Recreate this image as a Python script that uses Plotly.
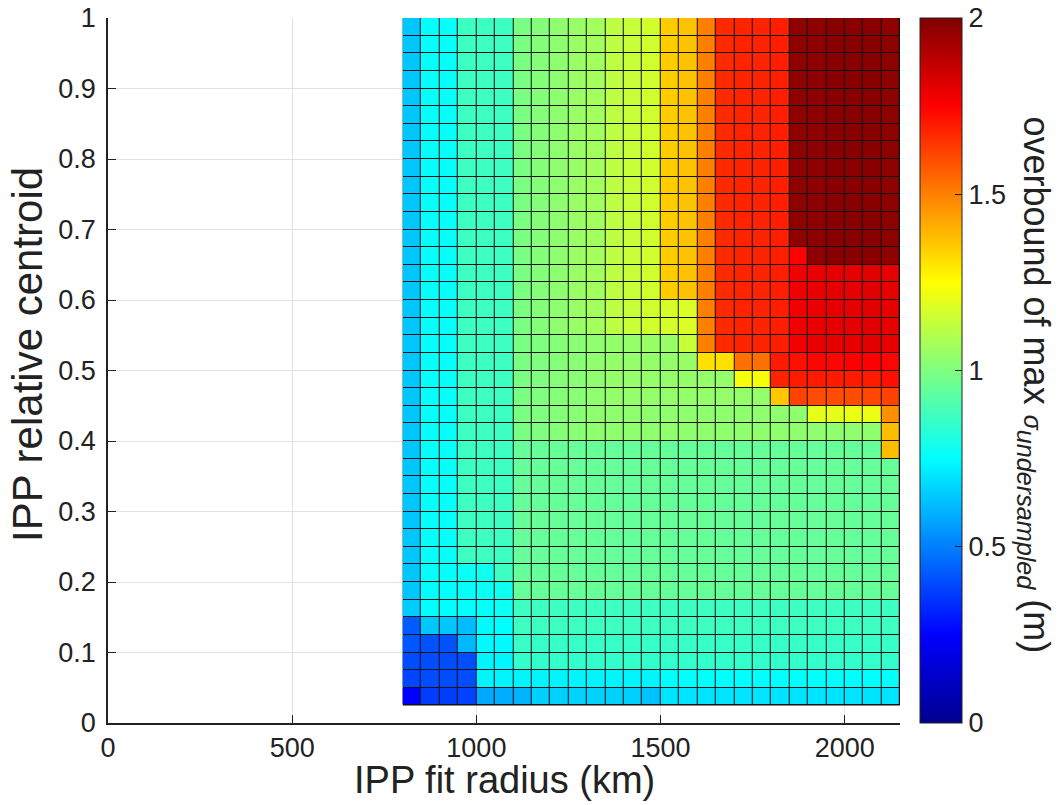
import plotly.graph_objects as go

# IPP fit radius (km) - centres of the 27 grid columns
radius_km = [825, 875, 925, 975, 1025, 1075, 1125, 1175, 1225, 1275, 1325, 1375, 1425, 1475,
             1525, 1575, 1625, 1675, 1725, 1775, 1825, 1875, 1925, 1975, 2025, 2075, 2125]

# IPP relative centroid - centres of the 39 grid rows, listed top to bottom
centroid = [0.9875, 0.9625, 0.9375, 0.9125, 0.8875, 0.8625, 0.8375, 0.8125, 0.7875, 0.7625,
            0.7375, 0.7125, 0.6875, 0.6625, 0.6375, 0.6125, 0.5875, 0.5625, 0.5375, 0.5125,
            0.4875, 0.4625, 0.4375, 0.4125, 0.3875, 0.3625, 0.3375, 0.3125, 0.2875, 0.2625,
            0.2375, 0.2125, 0.1875, 0.1625, 0.1375, 0.1125, 0.0875, 0.0625, 0.0375]

# overbound of max sigma_undersampled (m), one row per centroid value (top to bottom)
overbound = [
    [0.64, 0.76, 0.76, 0.87, 0.87, 0.87, 0.99, 1.01, 1.03, 1.05, 1.07, 1.12, 1.14, 1.16, 1.35, 1.37, 1.50, 1.67, 1.68, 1.68, 1.69, 1.97, 1.97, 1.98, 1.98, 1.98, 1.97],
    [0.64, 0.76, 0.76, 0.87, 0.87, 0.87, 0.99, 1.01, 1.03, 1.05, 1.07, 1.12, 1.14, 1.16, 1.35, 1.37, 1.50, 1.67, 1.68, 1.68, 1.69, 1.97, 1.97, 1.98, 1.98, 1.98, 1.97],
    [0.64, 0.76, 0.76, 0.87, 0.87, 0.87, 0.99, 1.01, 1.03, 1.05, 1.07, 1.12, 1.14, 1.16, 1.35, 1.37, 1.50, 1.67, 1.68, 1.68, 1.69, 1.97, 1.97, 1.98, 1.98, 1.98, 1.97],
    [0.64, 0.76, 0.76, 0.87, 0.87, 0.87, 0.99, 1.01, 1.03, 1.05, 1.07, 1.12, 1.14, 1.16, 1.35, 1.37, 1.50, 1.67, 1.68, 1.68, 1.69, 1.97, 1.97, 1.98, 1.98, 1.98, 1.97],
    [0.64, 0.76, 0.76, 0.87, 0.87, 0.87, 0.99, 1.01, 1.03, 1.05, 1.07, 1.12, 1.14, 1.16, 1.35, 1.37, 1.50, 1.67, 1.68, 1.68, 1.69, 1.97, 1.97, 1.98, 1.98, 1.98, 1.97],
    [0.64, 0.76, 0.76, 0.87, 0.87, 0.87, 0.99, 1.01, 1.03, 1.05, 1.07, 1.12, 1.14, 1.16, 1.35, 1.37, 1.50, 1.67, 1.68, 1.68, 1.69, 1.97, 1.97, 1.98, 1.98, 1.98, 1.97],
    [0.64, 0.76, 0.76, 0.87, 0.87, 0.87, 0.99, 1.01, 1.03, 1.05, 1.07, 1.12, 1.14, 1.16, 1.35, 1.37, 1.50, 1.67, 1.68, 1.68, 1.69, 1.97, 1.97, 1.98, 1.98, 1.98, 1.97],
    [0.64, 0.76, 0.76, 0.87, 0.87, 0.87, 0.99, 1.01, 1.03, 1.05, 1.07, 1.12, 1.14, 1.16, 1.35, 1.37, 1.50, 1.67, 1.68, 1.68, 1.69, 1.97, 1.97, 1.98, 1.98, 1.98, 1.97],
    [0.64, 0.76, 0.76, 0.87, 0.87, 0.87, 0.99, 1.01, 1.03, 1.05, 1.07, 1.12, 1.14, 1.16, 1.35, 1.37, 1.50, 1.67, 1.68, 1.68, 1.69, 1.97, 1.97, 1.98, 1.98, 1.98, 1.97],
    [0.64, 0.76, 0.76, 0.87, 0.87, 0.87, 0.99, 1.01, 1.03, 1.05, 1.07, 1.12, 1.14, 1.16, 1.35, 1.37, 1.50, 1.67, 1.68, 1.68, 1.69, 1.97, 1.97, 1.98, 1.98, 1.98, 1.97],
    [0.64, 0.76, 0.76, 0.87, 0.87, 0.87, 0.99, 1.01, 1.03, 1.05, 1.07, 1.12, 1.14, 1.16, 1.35, 1.37, 1.50, 1.67, 1.68, 1.68, 1.69, 1.97, 1.97, 1.98, 1.98, 1.98, 1.97],
    [0.64, 0.76, 0.76, 0.87, 0.87, 0.87, 0.99, 1.01, 1.03, 1.05, 1.07, 1.12, 1.14, 1.16, 1.35, 1.37, 1.50, 1.67, 1.68, 1.68, 1.69, 1.97, 1.97, 1.98, 1.98, 1.98, 1.97],
    [0.64, 0.76, 0.76, 0.87, 0.87, 0.87, 0.99, 1.01, 1.03, 1.05, 1.07, 1.12, 1.14, 1.16, 1.35, 1.37, 1.50, 1.67, 1.68, 1.68, 1.69, 1.97, 1.97, 1.98, 1.98, 1.98, 1.97],
    [0.64, 0.76, 0.76, 0.87, 0.87, 0.87, 0.99, 1.01, 1.03, 1.05, 1.07, 1.12, 1.14, 1.16, 1.35, 1.37, 1.50, 1.67, 1.68, 1.68, 1.69, 1.75, 1.97, 1.98, 1.98, 1.98, 1.97],
    [0.64, 0.76, 0.76, 0.87, 0.87, 0.87, 0.99, 1.01, 1.03, 1.05, 1.07, 1.12, 1.14, 1.16, 1.35, 1.37, 1.50, 1.67, 1.68, 1.68, 1.69, 1.78, 1.79, 1.80, 1.80, 1.81, 1.80],
    [0.64, 0.76, 0.76, 0.87, 0.87, 0.87, 0.99, 1.01, 1.03, 1.05, 1.07, 1.12, 1.14, 1.16, 1.35, 1.37, 1.50, 1.67, 1.68, 1.68, 1.69, 1.78, 1.79, 1.80, 1.80, 1.81, 1.80],
    [0.64, 0.76, 0.76, 0.87, 0.87, 0.87, 0.99, 1.01, 1.03, 1.05, 1.07, 1.12, 1.14, 1.16, 1.17, 1.18, 1.50, 1.67, 1.68, 1.68, 1.69, 1.78, 1.79, 1.80, 1.80, 1.81, 1.80],
    [0.64, 0.76, 0.76, 0.87, 0.87, 0.87, 0.99, 1.01, 1.03, 1.05, 1.07, 1.12, 1.14, 1.16, 1.17, 1.18, 1.50, 1.67, 1.68, 1.68, 1.69, 1.78, 1.79, 1.80, 1.80, 1.81, 1.80],
    [0.64, 0.76, 0.76, 0.87, 0.87, 0.87, 0.99, 1.00, 1.01, 1.02, 1.03, 1.04, 1.04, 1.05, 1.05, 1.14, 1.50, 1.67, 1.68, 1.68, 1.69, 1.78, 1.79, 1.80, 1.80, 1.81, 1.80],
    [0.64, 0.76, 0.76, 0.87, 0.87, 0.87, 0.99, 1.00, 1.01, 1.02, 1.03, 1.04, 1.04, 1.04, 1.04, 1.05, 1.31, 1.31, 1.53, 1.53, 1.70, 1.72, 1.74, 1.74, 1.75, 1.75, 1.74],
    [0.64, 0.76, 0.76, 0.87, 0.87, 0.87, 0.99, 1.00, 1.01, 1.02, 1.03, 1.04, 1.04, 1.04, 1.04, 1.04, 1.04, 1.04, 1.23, 1.23, 1.68, 1.70, 1.70, 1.70, 1.70, 1.70, 1.72],
    [0.64, 0.76, 0.76, 0.87, 0.87, 0.87, 0.99, 1.00, 1.01, 1.02, 1.03, 1.04, 1.04, 1.04, 1.04, 1.04, 1.04, 1.04, 1.04, 1.04, 1.36, 1.62, 1.60, 1.60, 1.60, 1.61, 1.62],
    [0.64, 0.76, 0.76, 0.87, 0.87, 0.87, 0.99, 1.00, 1.01, 1.02, 1.03, 1.03, 1.03, 1.03, 1.03, 1.03, 1.03, 1.03, 1.03, 1.03, 1.03, 1.03, 1.20, 1.20, 1.21, 1.21, 1.47],
    [0.64, 0.76, 0.76, 0.87, 0.87, 0.87, 0.99, 1.00, 1.01, 1.02, 1.03, 1.03, 1.03, 1.03, 1.03, 1.03, 1.03, 1.03, 1.03, 1.03, 1.03, 1.03, 1.03, 1.03, 1.03, 1.03, 1.38],
    [0.64, 0.76, 0.76, 0.87, 0.87, 0.87, 0.95, 0.95, 0.95, 0.95, 0.95, 0.95, 0.95, 0.95, 0.95, 0.95, 0.95, 0.95, 0.95, 0.95, 0.95, 0.95, 0.95, 0.95, 0.95, 0.95, 1.38],
    [0.64, 0.76, 0.76, 0.87, 0.87, 0.87, 0.95, 0.95, 0.95, 0.95, 0.95, 0.95, 0.95, 0.95, 0.95, 0.95, 0.95, 0.95, 0.95, 0.95, 0.95, 0.95, 0.95, 0.95, 0.95, 0.95, 0.95],
    [0.64, 0.76, 0.76, 0.87, 0.87, 0.87, 0.95, 0.95, 0.95, 0.95, 0.95, 0.95, 0.95, 0.95, 0.95, 0.95, 0.95, 0.95, 0.95, 0.95, 0.95, 0.95, 0.95, 0.95, 0.95, 0.95, 0.95],
    [0.64, 0.76, 0.76, 0.87, 0.87, 0.87, 0.95, 0.95, 0.95, 0.95, 0.95, 0.95, 0.95, 0.95, 0.95, 0.95, 0.95, 0.95, 0.95, 0.95, 0.95, 0.95, 0.95, 0.95, 0.95, 0.95, 0.95],
    [0.64, 0.76, 0.76, 0.87, 0.87, 0.87, 0.95, 0.95, 0.95, 0.95, 0.95, 0.95, 0.95, 0.95, 0.95, 0.95, 0.95, 0.95, 0.95, 0.95, 0.95, 0.95, 0.95, 0.95, 0.95, 0.95, 0.95],
    [0.64, 0.76, 0.76, 0.87, 0.87, 0.87, 0.95, 0.95, 0.95, 0.95, 0.95, 0.95, 0.95, 0.95, 0.95, 0.95, 0.95, 0.95, 0.95, 0.95, 0.95, 0.95, 0.95, 0.95, 0.95, 0.95, 0.95],
    [0.64, 0.76, 0.76, 0.87, 0.87, 0.87, 0.95, 0.95, 0.95, 0.95, 0.95, 0.95, 0.95, 0.95, 0.95, 0.95, 0.95, 0.95, 0.95, 0.95, 0.95, 0.95, 0.95, 0.95, 0.95, 0.95, 0.95],
    [0.64, 0.76, 0.76, 0.77, 0.78, 0.87, 0.95, 0.95, 0.95, 0.95, 0.95, 0.95, 0.95, 0.95, 0.95, 0.95, 0.95, 0.95, 0.95, 0.95, 0.95, 0.95, 0.95, 0.95, 0.95, 0.95, 0.95],
    [0.64, 0.75, 0.75, 0.76, 0.77, 0.78, 0.95, 0.95, 0.95, 0.95, 0.95, 0.95, 0.95, 0.95, 0.95, 0.95, 0.95, 0.95, 0.95, 0.95, 0.95, 0.95, 0.95, 0.95, 0.95, 0.95, 0.95],
    [0.65, 0.75, 0.75, 0.75, 0.76, 0.77, 0.87, 0.87, 0.87, 0.87, 0.87, 0.87, 0.87, 0.87, 0.87, 0.87, 0.87, 0.87, 0.87, 0.87, 0.87, 0.87, 0.87, 0.87, 0.87, 0.87, 0.87],
    [0.43, 0.64, 0.64, 0.62, 0.74, 0.75, 0.87, 0.87, 0.87, 0.87, 0.87, 0.87, 0.87, 0.87, 0.87, 0.87, 0.87, 0.87, 0.87, 0.87, 0.87, 0.87, 0.87, 0.87, 0.87, 0.87, 0.87],
    [0.42, 0.41, 0.41, 0.61, 0.74, 0.74, 0.86, 0.86, 0.86, 0.86, 0.86, 0.86, 0.86, 0.86, 0.86, 0.86, 0.86, 0.86, 0.86, 0.86, 0.86, 0.86, 0.86, 0.86, 0.86, 0.86, 0.86],
    [0.40, 0.40, 0.40, 0.40, 0.73, 0.73, 0.85, 0.85, 0.85, 0.85, 0.85, 0.85, 0.85, 0.85, 0.85, 0.85, 0.85, 0.85, 0.85, 0.85, 0.85, 0.85, 0.85, 0.85, 0.85, 0.85, 0.85],
    [0.39, 0.40, 0.40, 0.40, 0.73, 0.73, 0.73, 0.73, 0.73, 0.73, 0.73, 0.73, 0.73, 0.73, 0.75, 0.75, 0.75, 0.75, 0.75, 0.75, 0.75, 0.75, 0.75, 0.75, 0.75, 0.75, 0.75],
    [0.25, 0.37, 0.37, 0.38, 0.58, 0.59, 0.60, 0.66, 0.66, 0.66, 0.66, 0.66, 0.66, 0.63, 0.70, 0.70, 0.70, 0.70, 0.70, 0.70, 0.70, 0.70, 0.70, 0.70, 0.70, 0.70, 0.70],
]

x_ticks = [0, 500, 1000, 1500, 2000]
y_ticks = [0, 0.1, 0.2, 0.3, 0.4, 0.5, 0.6, 0.7, 0.8, 0.9, 1]
cbar_ticks = [0, 0.5, 1, 1.5, 2]

assert len(overbound) == len(centroid)
assert all(len(r) == len(radius_km) for r in overbound)

jet = [[0.0, "rgb(0,0,143)"], [0.125, "rgb(0,0,255)"], [0.375, "rgb(0,255,255)"],
       [0.625, "rgb(255,255,0)"], [0.875, "rgb(255,0,0)"], [1.0, "rgb(128,0,0)"]]

FONT = "Liberation Sans, Arial, Helvetica, sans-serif"

fig = go.Figure()
fig.add_trace(go.Heatmap(
    x=radius_km, y=centroid[::-1], z=overbound[::-1],
    zmin=0, zmax=2, colorscale=jet, xgap=1, ygap=1,
    colorbar=dict(
        x=1.0253, xanchor="left", xpad=0, y=0.5, yanchor="middle", ypad=0,
        len=1, lenmode="fraction",
        thickness=42, thicknessmode="pixels", outlinewidth=1, outlinecolor="#222",
        tickvals=cbar_ticks, ticktext=[str(v) for v in cbar_ticks],
        ticks="inside", ticklen=7, tickcolor="#222", tickfont=dict(size=27, color="#222"),
        ticklabeloverflow="allow",
    ),
))

# black backing behind the cells so the gaps read as cell borders
half_w = (radius_km[1] - radius_km[0]) / 2
half_h = (centroid[0] - centroid[1]) / 2
fig.add_shape(type="rect", xref="x", yref="y", layer="between",
              x0=min(radius_km) - half_w, x1=max(radius_km) + half_w,
              y0=min(centroid) - half_h, y1=max(centroid) + half_h,
              fillcolor="#111", line=dict(width=0))

axis_common = dict(showline=True, linecolor="#222", linewidth=1.5, ticks="inside",
                   ticklen=8, tickcolor="#222", tickwidth=1.2, showgrid=True,
                   gridcolor="#e2e2e2", gridwidth=1, zeroline=False,
                   ticklabeloverflow="allow", tickfont=dict(size=27, color="#222"))

fig.update_xaxes(range=[0, 2150], tickvals=x_ticks, **axis_common)
fig.update_yaxes(range=[0, 1], tickvals=y_ticks, ticktext=[f"{v:g}" for v in y_ticks],
                 ticklabelstandoff=5, **axis_common)

fig.add_annotation(text="IPP fit radius (km)", xref="paper", yref="paper",
                   x=0.5, y=-0.081, xanchor="center", yanchor="middle", showarrow=False,
                   font=dict(size=38, color="#222"))
fig.add_annotation(text="IPP relative centroid", xref="paper", yref="paper",
                   x=-0.101, y=0.522, xanchor="center", yanchor="middle", showarrow=False,
                   textangle=-90, font=dict(size=42, color="#222"))
fig.add_annotation(
    text="overbound of max <span style='font-size:25px'><i>σ</i></span><sub><i>undersampled</i></sub> (m)",
    xref="paper", yref="paper", x=1.169, y=0.479, xanchor="center", yanchor="middle",
    showarrow=False, textangle=90, font=dict(size=36, color="#222"))

fig.update_layout(
    width=1061, height=805, autosize=False,
    margin=dict(l=108, r=161, t=18, b=82, autoexpand=False),
    paper_bgcolor="white", plot_bgcolor="white",
    font=dict(family=FONT, color="#222"),
    showlegend=False,
)

# remove the browser's default 8 px body margin so the figure fills the window exactly
fig.write_html("out.html", config={"displayModeBar": False},
               post_script="document.body.style.margin='0';document.body.style.overflow='hidden';")
